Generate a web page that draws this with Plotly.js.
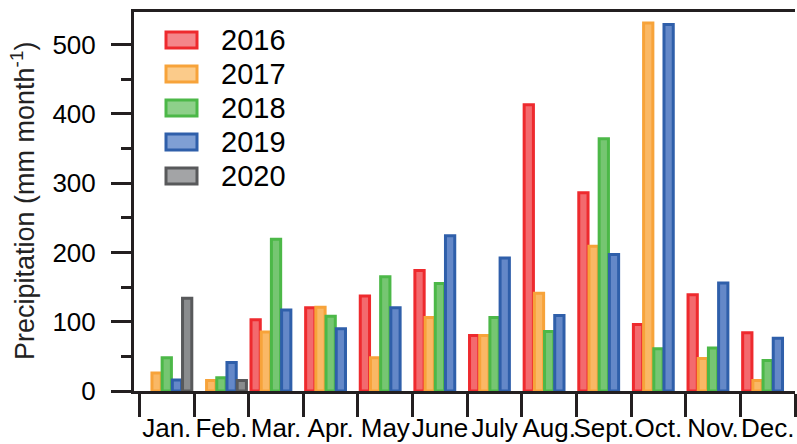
<!DOCTYPE html>
<html>
<head>
<meta charset="utf-8">
<script src="https://cdn.plot.ly/plotly-3.0.1.min.js"></script>
<style>html,body{margin:0;padding:0;background:#fff;}#chart{width:797px;height:444px;}</style>
</head>
<body>
<div id="chart"></div>
<script>
const months = ['Jan.','Feb.','Mar.','Apr.','May','June','July','Aug.','Sept.','Oct.','Nov.','Dec.'];
const years = ['2016','2017','2018','2019','2020'];
const p2016 = [null, null, 103, 120, 137, 174, 80, 413, 286, 96, 139, 84];
const p2017 = [26, 15, 85, 121, 48, 106, 80, 141, 209, 531, 47, 15];
const p2018 = [48, 19, 219, 108, 165, 155, 106, 86, 364, 61, 62, 44];
const p2019 = [16, 41, 117, 90, 120, 224, 192, 109, 197, 529, 156, 76];
const p2020 = [134, 15, null, null, null, null, null, null, null, null, null, null];
const yTickVals = [0, 100, 200, 300, 400, 500];
const yTitle = 'Precipitation (mm month<sup>-1</sup>)';

const series = [p2016, p2017, p2018, p2019, p2020];
const lineColors = ['#ee2a2e', '#f7a33a', '#4cb848', '#2f5faa', '#58595b'];
const barFill = ['#f36a6e', '#fab865', '#76c672', '#6488c8', '#8a8c8e'];
const swatchFill = ['#f4868a', '#fbcb8a', '#8ed08a', '#7f9fd4', '#a3a4a6'];

const traces = series.map((vals, i) => ({
  type: 'bar',
  name: years[i],
  x: months,
  y: vals,
  marker: {color: barFill[i], line: {color: lineColors[i], width: 3}},
  hoverinfo: 'x+y+name'
}));

// Custom legend and axis title (layout decoration, in paper coordinates)
const plotL = 134, plotR = 795, plotT = 12, plotB = 391;
const pxX = px => (px - plotL) / (plotR - plotL);
const pxY = py => (plotB - py) / (plotB - plotT);
const legTop = 40, legStep = 34;
const shapes = [];
const annotations = [];
years.forEach((yr, i) => {
  const cy = legTop + i * legStep;
  shapes.push({
    type: 'rect', xref: 'paper', yref: 'paper',
    x0: pxX(166), x1: pxX(197), y0: pxY(cy - 8), y1: pxY(cy + 8),
    fillcolor: swatchFill[i], line: {color: lineColors[i], width: 3}
  });
  annotations.push({
    xref: 'paper', yref: 'paper', x: pxX(219), y: pxY(cy),
    xanchor: 'left', yanchor: 'middle', showarrow: false,
    text: yr, font: {size: 29, color: '#000'}
  });
});
annotations.push({
  xref: 'paper', yref: 'paper', x: pxX(23), y: pxY(201),
  xanchor: 'center', yanchor: 'middle', showarrow: false, textangle: -90,
  text: yTitle, font: {size: 27, color: '#222'}
});

const axisColor = '#231f20';
const layout = {
  width: 797, height: 444,
  margin: {l: 134, r: 2, t: 12, b: 53},
  paper_bgcolor: '#fff', plot_bgcolor: '#fff',
  font: {family: 'Liberation Sans, Arial, sans-serif', color: '#000', size: 26},
  barmode: 'group',
  bargap: 0.067,
  bargroupgap: 0.09,
  showlegend: false,
  shapes: shapes,
  annotations: annotations,
  xaxis: {
    type: 'category',
    categoryorder: 'array', categoryarray: months,
    range: [-0.6, 11.5],
    tickson: 'boundaries',
    ticks: 'outside', ticklen: 23, tickwidth: 3, tickcolor: axisColor,
    tickangle: 0,
    ticklabelstandoff: 12,
    tickfont: {size: 26},
    showline: true, linecolor: axisColor, linewidth: 3, mirror: true,
    showgrid: false, zeroline: false, fixedrange: true
  },
  yaxis: {
    range: [0, 547],
    tickvals: yTickVals,
    ticks: 'outside', ticklen: 20, tickwidth: 3, tickcolor: axisColor,
    minor: {dtick: 50, tick0: 0, ticks: 'outside', ticklen: 10, tickwidth: 3, tickcolor: axisColor, showgrid: false},
    ticklabelstandoff: 10,
    tickfont: {size: 26},
    showline: true, linecolor: axisColor, linewidth: 3,
    showgrid: false, zeroline: false, fixedrange: true
  }
};

Plotly.newPlot('chart', traces, layout, {displayModeBar: false, staticPlot: true});
</script>
</body>
</html>
